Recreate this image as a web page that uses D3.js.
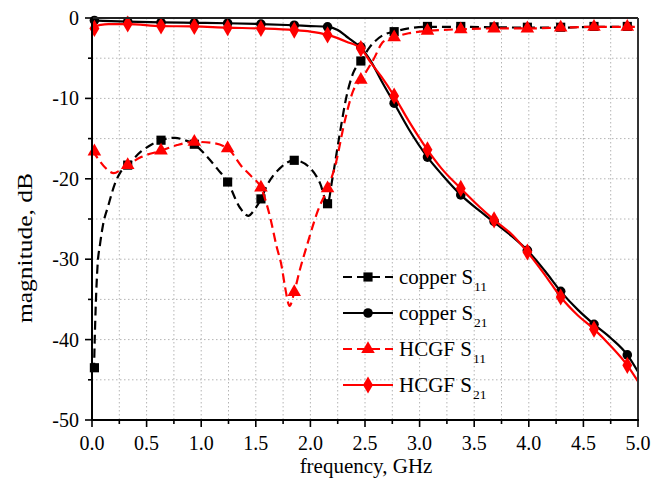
<!DOCTYPE html>
<html><head><meta charset="utf-8">
<script src="https://cdn.jsdelivr.net/npm/d3@7"></script>
<style>body{margin:0;background:#fff}svg{display:block}text{font-family:"Liberation Serif","Times New Roman",serif;fill:#000}</style>
</head><body><svg id="c" width="654" height="485"></svg>
<script>
// ---- data ----
const xTicks = [0.0,0.5,1.0,1.5,2.0,2.5,3.0,3.5,4.0,4.5,5.0];
const yTicks = [0,-10,-20,-30,-40,-50];
const markerFreq = [0.022,0.327,0.632,0.937,1.242,1.547,1.852,2.157,2.462,2.767,3.072,3.377,3.682,3.987,4.292,4.597,4.902];

const copperS11Line = [[0.018,-44],[0.025,-40],[0.035,-35.5],[0.05,-31],[0.075,-28],[0.1,-25.8],[0.15,-23.3],[0.21,-20.6],[0.26,-19.2],[0.327,-18.3],[0.45,-16.6],[0.55,-15.7],[0.632,-15.2],[0.76,-14.9],[0.85,-15.2],[0.937,-15.7],[1.05,-17.2],[1.15,-18.8],[1.242,-20.4],[1.355,-23.6],[1.43,-24.6],[1.49,-23.8],[1.547,-22.5],[1.6,-20.9],[1.72,-18.7],[1.852,-17.7],[2.0,-18.7],[2.09,-20.6],[2.157,-23.1],[2.2,-20.1],[2.27,-14.3],[2.33,-9.8],[2.39,-6.9],[2.462,-5.35],[2.545,-3.6],[2.67,-2.1],[2.767,-1.7],[2.9,-1.3],[3.072,-1.1],[3.377,-1.1],[3.682,-1.15],[3.987,-1.2],[4.292,-1.2],[4.597,-1.1],[4.902,-1.1],[5.0,-1.1]];
const copperS11Mark = [-43.5,-18.3,-15.2,-15.7,-20.4,-22.5,-17.7,-23.1,-5.35,-1.7,-1.05,-1.05,-1.1,-1.15,-1.15,-1.05,-1.05];

const copperS21Line = [[0.0,-0.3],[0.1,-0.35],[0.327,-0.45],[0.632,-0.55],[0.937,-0.6],[1.242,-0.65],[1.547,-0.75],[1.852,-0.9],[2.0,-1.0],[2.157,-1.1],[2.25,-1.5],[2.33,-2.3],[2.4,-3.0],[2.462,-3.7],[2.55,-5.3],[2.65,-7.8],[2.767,-10.6],[2.9,-13.8],[3.072,-17.3],[3.2,-19.4],[3.377,-22.0],[3.55,-24.0],[3.682,-25.4],[3.85,-27.2],[3.987,-28.9],[4.15,-31.5],[4.292,-34.0],[4.45,-36.3],[4.597,-38.1],[4.75,-39.8],[4.902,-41.9],[5.0,-44.0]];
const copperS21Mark = [-0.3,-0.45,-0.55,-0.6,-0.65,-0.75,-0.9,-1.1,-3.6,-10.6,-17.3,-22.0,-25.3,-28.9,-34.0,-38.1,-41.9];

const hcgfS11Line = [[0.005,-16.5],[0.06,-17.6],[0.12,-18.6],[0.2,-19.3],[0.26,-18.9],[0.327,-18.3],[0.45,-17.3],[0.632,-16.5],[0.78,-15.8],[0.937,-15.4],[1.08,-15.5],[1.242,-16.2],[1.367,-18.4],[1.46,-19.7],[1.547,-21.1],[1.63,-24.7],[1.69,-28.4],[1.737,-30.9],[1.767,-33.4],[1.81,-35.8],[1.852,-34.1],[1.9,-31.5],[1.966,-28.4],[2.07,-23.9],[2.157,-21.2],[2.225,-18.5],[2.317,-12.7],[2.393,-9.0],[2.462,-7.7],[2.576,-5.2],[2.668,-2.95],[2.767,-2.4],[2.9,-1.9],[3.072,-1.6],[3.377,-1.4],[3.682,-1.3],[3.987,-1.3],[4.292,-1.2],[4.597,-1.1],[4.902,-1.1],[5.0,-1.1]];
const hcgfS11Mark = [-16.6,-18.3,-16.5,-15.4,-16.2,-21.1,-34.1,-21.2,-7.7,-2.4,-1.6,-1.4,-1.3,-1.3,-1.2,-1.1,-1.1];

const hcgfS21Line = [[0.0,-1.6],[0.03,-1.1],[0.08,-0.85],[0.15,-0.75],[0.327,-0.75],[0.632,-1.0],[0.937,-1.05],[1.242,-1.2],[1.547,-1.3],[1.852,-1.5],[2.0,-1.7],[2.157,-2.1],[2.25,-2.5],[2.33,-2.95],[2.462,-3.8],[2.55,-5.5],[2.65,-7.3],[2.767,-9.7],[2.9,-12.8],[3.072,-16.4],[3.2,-18.7],[3.377,-21.2],[3.55,-23.5],[3.682,-25.1],[3.85,-27.0],[3.987,-29.1],[4.15,-32.0],[4.292,-34.7],[4.45,-37.0],[4.597,-38.7],[4.75,-40.8],[4.902,-43.2],[5.0,-45.2]];
const hcgfS21Mark = [-1.3,-0.75,-1.0,-1.05,-1.2,-1.3,-1.5,-2.1,-3.8,-9.7,-16.4,-21.2,-25.1,-29.1,-34.7,-38.7,-43.2];

const seriesNames = ["copper S","copper S","HCGF S","HCGF S"];
const seriesSubs = ["11","21","11","21"];

// ---- chart ----
const L=92,R=638,T=18,B=420;
const svg=d3.select("#c");
const x=d3.scaleLinear().domain([0,5]).range([L,R]);
const y=d3.scaleLinear().domain([-50,0]).range([B,T]);

// grid
const g=svg.append("g");
g.selectAll("line.gx").data(d3.range(0.25,5,0.25)).join("line")
 .attr("x1",d=>x(d)).attr("x2",d=>x(d)).attr("y1",T).attr("y2",B)
 .attr("stroke","#b4b4b4").attr("stroke-width",1).attr("stroke-dasharray","1.5,2.5");
g.selectAll("line.gy").data(d3.range(-45,0,5)).join("line")
 .attr("y1",d=>y(d)).attr("y2",d=>y(d)).attr("x1",L).attr("x2",R)
 .attr("stroke","#b4b4b4").attr("stroke-width",1).attr("stroke-dasharray","1.5,2.5");

const series=[
 {line:copperS11Line,mark:copperS11Mark,color:"#000",dash:"9,5",shape:"square"},
 {line:copperS21Line,mark:copperS21Mark,color:"#000",dash:null,shape:"circle"},
 {line:hcgfS11Line,mark:hcgfS11Mark,color:"#f00",dash:"9,5",shape:"triangle"},
 {line:hcgfS21Line,mark:hcgfS21Mark,color:"#f00",dash:null,shape:"diamond"}
];
const symType={square:d3.symbolSquare,circle:d3.symbolCircle,triangle:d3.symbolTriangle,diamond:d3.symbolDiamond};
const symSize={square:84,circle:72,triangle:80,diamond:85};
const lineGen=d3.line().x(d=>x(d[0])).y(d=>y(d[1])).curve(d3.curveMonotoneX);

const plot=svg.append("g");
series.forEach(s=>{
 plot.append("path").attr("d",lineGen(s.line)).attr("fill","none")
  .attr("stroke",s.color).attr("stroke-width",2.2).attr("stroke-dasharray",s.dash);
 plot.selectAll(null).data(markerFreq.map((f,i)=>[f,s.mark[i]])).join("path")
  .attr("transform",d=>`translate(${x(d[0])},${y(d[1])})`)
  .attr("d",d3.symbol().type(symType[s.shape]).size(symSize[s.shape]))
  .attr("fill",s.color);
});

// frame
svg.append("line").attr("x1",L).attr("x2",R).attr("y1",T).attr("y2",T).attr("stroke","#222").attr("stroke-width",2);
svg.append("line").attr("x1",R).attr("x2",R).attr("y1",T).attr("y2",B).attr("stroke","#333").attr("stroke-width",2);

// axes
const xAxis=svg.append("g").attr("transform",`translate(0,${B})`);
xAxis.append("line").attr("x1",L-1).attr("x2",R+1).attr("stroke","#000").attr("stroke-width",2);
xAxis.selectAll("line.mj").data(xTicks).join("line").attr("x1",d=>x(d)).attr("x2",d=>x(d)).attr("y1",0).attr("y2",7).attr("stroke","#000").attr("stroke-width",1.6);
xAxis.selectAll("line.mn").data(d3.range(0.25,5,0.5)).join("line").attr("x1",d=>x(d)).attr("x2",d=>x(d)).attr("y1",0).attr("y2",4).attr("stroke","#000").attr("stroke-width",1.6);
xAxis.selectAll("text").data(xTicks).join("text").attr("x",d=>x(d)).attr("y",30).attr("text-anchor","middle").attr("font-size",20).text(d=>d.toFixed(1));

const yAxis=svg.append("g");
yAxis.append("line").attr("x1",L).attr("x2",L).attr("y1",T-1).attr("y2",B+1).attr("stroke","#000").attr("stroke-width",2);
yAxis.selectAll("line.mj").data(yTicks).join("line").attr("x1",L-7).attr("x2",L).attr("y1",d=>y(d)).attr("y2",d=>y(d)).attr("stroke","#000").attr("stroke-width",1.6);
yAxis.selectAll("line.mn").data(d3.range(-45,0,10)).join("line").attr("x1",L-4).attr("x2",L).attr("y1",d=>y(d)).attr("y2",d=>y(d)).attr("stroke","#000").attr("stroke-width",1.6);
yAxis.selectAll("text").data(yTicks).join("text").attr("x",L-13).attr("y",d=>y(d)+7).attr("text-anchor","end").attr("font-size",20).text(d=>d===0?"0":"-"+Math.abs(d));

svg.append("text").attr("x",366).attr("y",473).attr("text-anchor","middle").attr("font-size",21).text("frequency, GHz");
svg.append("text").attr("transform","translate(32,248) rotate(-90)").attr("text-anchor","middle").attr("font-size",21)
 .attr("textLength",150).attr("lengthAdjust","spacingAndGlyphs").text("magnitude, dB");

// legend
const leg=svg.append("g");
const rowY=[277,313,349,385];
series.forEach((s,i)=>{
 const yy=rowY[i];
 leg.append("line").attr("x1",343).attr("x2",393).attr("y1",yy).attr("y2",yy).attr("stroke",s.color).attr("stroke-width",2.2).attr("stroke-dasharray",s.dash);
 leg.append("path").attr("transform",`translate(368,${yy})`).attr("d",d3.symbol().type(symType[s.shape]).size(symSize[s.shape])).attr("fill",s.color);
 const t=leg.append("text").attr("x",399).attr("y",yy+7).attr("font-size",21);
 t.append("tspan").text(seriesNames[i]);
 t.append("tspan").attr("font-size",13.5).attr("dy",7).attr("dx",1).text(seriesSubs[i]);
});
</script></body></html>
